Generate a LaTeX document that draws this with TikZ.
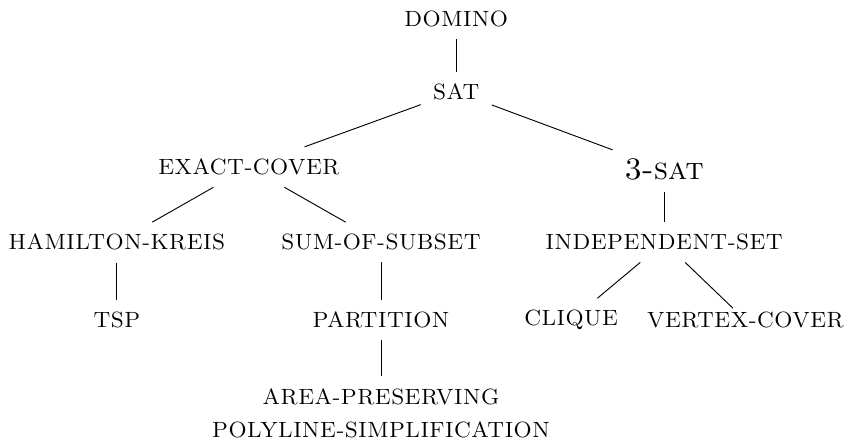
\documentclass[tikz,border=0pt]{standalone}
\begin{document}
\begin{tikzpicture}[prob/.style={font=\fontsize{9.5pt}{11.4pt}\selectfont\scshape, inner sep=5pt}]
    \useasboundingbox (0, 0) rectangle (13.04, -6.70);
    % top of the chain
    \node[prob] (domino) at (6.91, -0.29) {DOMINO};
    \node[prob] (sat) at (6.91, -1.39) {SAT};
    \draw (domino) -- (sat);

    % left branch
    \node[prob] (exact) at (3.77, -2.53) {EXACT-COVER};
    \node[prob] (hamilton) at (1.77, -3.67) {HAMILTON-KREIS};
    \node[prob] (sum) at (5.77, -3.67) {SUM-OF-SUBSET};
    \node[prob] (tsp) at (1.77, -4.85) {TSP};
    \node[prob] (partition) at (5.77, -4.85) {PARTITION};
    \node[prob, align=center] (area) at (5.77, -6.26) {AREA-PRESERVING\\[3pt] POLYLINE-SIMPLIFICATION};
    \draw (sat) -- (exact);
    \draw (exact) -- (hamilton);
    \draw (exact) -- (sum);
    \draw (hamilton) -- (tsp);
    \draw (sum) -- (partition);
    \draw (partition) -- (area);

    % right branch
    \node[prob, font=\fontsize{13.5pt}{16pt}\selectfont\scshape] (3sat) at (10.06, -2.56) {3-sat};
    \node[prob] (indep) at (10.06, -3.67) {INDEPENDENT-SET};
    \node[prob] (clique) at (8.65, -4.85) {CLIQUE};
    \node[prob] (vc) at (11.29, -4.85) {VERTEX-COVER};
    \draw (sat) -- (3sat);
    \draw (3sat) -- (indep);
    \draw (indep) -- (clique);
    \draw[shorten >=-5pt] (indep) -- (vc);
\end{tikzpicture}
\end{document}
